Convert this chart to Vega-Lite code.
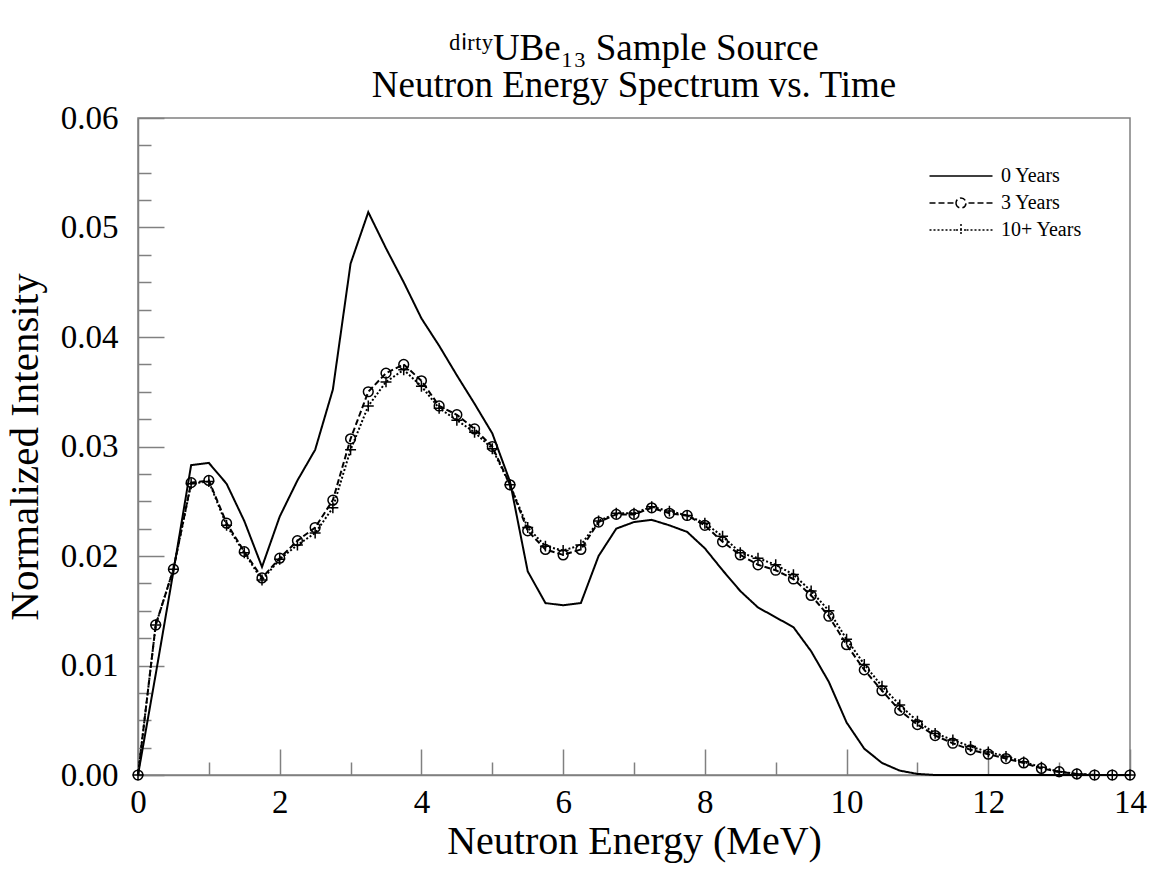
{
  "$schema": "https://vega.github.io/schema/vega-lite/v6.json",
  "autosize": "none",
  "width": 992,
  "height": 657,
  "padding": {"left": 138, "top": 118, "right": 23, "bottom": 100},
  "background": "white",
  "title": {
    "text": ["ᵈⁱʳᵗʸUBe₁₃ Sample Source", "Neutron Energy Spectrum vs. Time"],
    "font": "Liberation Serif",
    "fontSize": 37,
    "fontWeight": "normal",
    "lineHeight": 37,
    "offset": -3,
    "anchor": "middle",
    "frame": "group",
    "color": "black"
  },
  "data": {
    "values": [
      {"E": 0, "0 Years": 0, "3 Years": 0, "10+ Years": 0},
      {"E": 0.25, "0 Years": 0.0092, "3 Years": 0.0137, "10+ Years": 0.0137},
      {"E": 0.5, "0 Years": 0.0186, "3 Years": 0.0188, "10+ Years": 0.0188},
      {"E": 0.75, "0 Years": 0.0283, "3 Years": 0.0267, "10+ Years": 0.0266},
      {"E": 1.0, "0 Years": 0.0285, "3 Years": 0.0269, "10+ Years": 0.0268},
      {"E": 1.25, "0 Years": 0.0266, "3 Years": 0.0230, "10+ Years": 0.0228},
      {"E": 1.5, "0 Years": 0.0232, "3 Years": 0.0204, "10+ Years": 0.0203},
      {"E": 1.75, "0 Years": 0.0190, "3 Years": 0.0180, "10+ Years": 0.0178},
      {"E": 2.0, "0 Years": 0.0236, "3 Years": 0.0198, "10+ Years": 0.0197},
      {"E": 2.25, "0 Years": 0.0269, "3 Years": 0.0214, "10+ Years": 0.0210},
      {"E": 2.5, "0 Years": 0.0297, "3 Years": 0.0226, "10+ Years": 0.0221},
      {"E": 2.75, "0 Years": 0.0352, "3 Years": 0.0251, "10+ Years": 0.0244},
      {"E": 3.0, "0 Years": 0.0467, "3 Years": 0.0307, "10+ Years": 0.0297},
      {"E": 3.25, "0 Years": 0.0514, "3 Years": 0.0350, "10+ Years": 0.0337},
      {"E": 3.5, "0 Years": 0.0481, "3 Years": 0.0367, "10+ Years": 0.0359},
      {"E": 3.75, "0 Years": 0.0450, "3 Years": 0.0375, "10+ Years": 0.0370},
      {"E": 4.0, "0 Years": 0.0417, "3 Years": 0.0360, "10+ Years": 0.0355},
      {"E": 4.25, "0 Years": 0.0392, "3 Years": 0.0337, "10+ Years": 0.0335},
      {"E": 4.5, "0 Years": 0.0365, "3 Years": 0.0329, "10+ Years": 0.0324},
      {"E": 4.75, "0 Years": 0.0339, "3 Years": 0.0316, "10+ Years": 0.0313},
      {"E": 5.0, "0 Years": 0.0312, "3 Years": 0.0300, "10+ Years": 0.0298},
      {"E": 5.25, "0 Years": 0.0268, "3 Years": 0.0265, "10+ Years": 0.0265},
      {"E": 5.5, "0 Years": 0.0186, "3 Years": 0.0223, "10+ Years": 0.0226},
      {"E": 5.75, "0 Years": 0.0157, "3 Years": 0.0206, "10+ Years": 0.0209},
      {"E": 6.0, "0 Years": 0.0155, "3 Years": 0.0201, "10+ Years": 0.0205},
      {"E": 6.25, "0 Years": 0.0157, "3 Years": 0.0206, "10+ Years": 0.0210},
      {"E": 6.5, "0 Years": 0.0200, "3 Years": 0.0231, "10+ Years": 0.0232},
      {"E": 6.75, "0 Years": 0.0225, "3 Years": 0.0238, "10+ Years": 0.0239},
      {"E": 7.0, "0 Years": 0.0231, "3 Years": 0.0238, "10+ Years": 0.0239},
      {"E": 7.25, "0 Years": 0.0233, "3 Years": 0.0244, "10+ Years": 0.0245},
      {"E": 7.5, "0 Years": 0.0228, "3 Years": 0.0239, "10+ Years": 0.0241},
      {"E": 7.75, "0 Years": 0.0222, "3 Years": 0.0237, "10+ Years": 0.0237},
      {"E": 8.0, "0 Years": 0.0207, "3 Years": 0.0228, "10+ Years": 0.0230},
      {"E": 8.25, "0 Years": 0.0187, "3 Years": 0.0213, "10+ Years": 0.0218},
      {"E": 8.5, "0 Years": 0.0168, "3 Years": 0.0201, "10+ Years": 0.0203},
      {"E": 8.75, "0 Years": 0.0153, "3 Years": 0.0192, "10+ Years": 0.0198},
      {"E": 9.0, "0 Years": 0.0144, "3 Years": 0.0187, "10+ Years": 0.0192},
      {"E": 9.25, "0 Years": 0.0135, "3 Years": 0.0179, "10+ Years": 0.0183},
      {"E": 9.5, "0 Years": 0.0113, "3 Years": 0.0164, "10+ Years": 0.0168},
      {"E": 9.75, "0 Years": 0.0085, "3 Years": 0.0145, "10+ Years": 0.0150},
      {"E": 10.0, "0 Years": 0.0048, "3 Years": 0.0119, "10+ Years": 0.0124},
      {"E": 10.25, "0 Years": 0.0024, "3 Years": 0.0096, "10+ Years": 0.0101},
      {"E": 10.5, "0 Years": 0.0011, "3 Years": 0.0077, "10+ Years": 0.0081},
      {"E": 10.75, "0 Years": 0.0004, "3 Years": 0.0059, "10+ Years": 0.0064},
      {"E": 11.0, "0 Years": 0.0001, "3 Years": 0.0046, "10+ Years": 0.0049},
      {"E": 11.25, "0 Years": 0, "3 Years": 0.0036, "10+ Years": 0.0038},
      {"E": 11.5, "0 Years": 0, "3 Years": 0.0029, "10+ Years": 0.0032},
      {"E": 11.75, "0 Years": 0, "3 Years": 0.0023, "10+ Years": 0.0026},
      {"E": 12.0, "0 Years": 0, "3 Years": 0.0019, "10+ Years": 0.0021},
      {"E": 12.25, "0 Years": 0, "3 Years": 0.0015, "10+ Years": 0.0017},
      {"E": 12.5, "0 Years": 0, "3 Years": 0.0011, "10+ Years": 0.0012},
      {"E": 12.75, "0 Years": 0, "3 Years": 0.0006, "10+ Years": 0.0007},
      {"E": 13.0, "0 Years": 0, "3 Years": 0.0003, "10+ Years": 0.0003},
      {"E": 13.25, "0 Years": 0, "3 Years": 0.0001, "10+ Years": 0.0001},
      {"E": 13.5, "0 Years": 0, "3 Years": 0, "10+ Years": 0},
      {"E": 13.75, "0 Years": 0, "3 Years": 0, "10+ Years": 0},
      {"E": 14.0, "0 Years": 0, "3 Years": 0, "10+ Years": 0}
    ]
  },
  "transform": [
    {"fold": ["0 Years", "3 Years", "10+ Years"], "as": ["series", "value"]}
  ],
  "layer": [
    {
      "mark": {"type": "line", "color": "black", "strokeWidth": 2},
      "encoding": {
        "x": {
          "field": "E",
          "type": "quantitative",
          "scale": {"domain": [0, 14], "nice": false, "zero": false},
          "axis": {
            "orient": "bottom",
            "title": "Neutron Energy (MeV)",
            "values": [0, 2, 4, 6, 8, 10, 12, 14],
            "format": "d",
            "grid": false,
            "ticks": false,
            "domainColor": "#808080",
            "domainWidth": 1.5,
            "labelFont": "Liberation Serif",
            "labelFontSize": 33,
            "labelColor": "black",
            "labelPadding": 11,
            "labelFlush": false,
            "labelOverlap": false,
            "titleFont": "Liberation Serif",
            "titleFontSize": 40,
            "titleFontWeight": "normal",
            "titleColor": "black",
            "titlePadding": 2
          }
        },
        "y": {
          "field": "value",
          "type": "quantitative",
          "scale": {"domain": [0, 0.06], "nice": false},
          "axis": {
            "orient": "left",
            "title": "Normalized Intensity",
            "values": [0, 0.01, 0.02, 0.03, 0.04, 0.05, 0.06],
            "format": ".2f",
            "grid": false,
            "ticks": false,
            "domainColor": "#808080",
            "domainWidth": 1.5,
            "labelFont": "Liberation Serif",
            "labelFontSize": 33,
            "labelColor": "black",
            "labelPadding": 20,
            "labelFlush": false,
            "labelOverlap": false,
            "titleFont": "Liberation Serif",
            "titleFontSize": 41,
            "titleFontWeight": "normal",
            "titleColor": "black",
            "titlePadding": 14
          }
        },
        "strokeDash": {
          "field": "series",
          "type": "nominal",
          "scale": {"domain": ["0 Years", "3 Years", "10+ Years"], "range": [[1, 0], [6, 3], [2, 2]]},
          "legend": {
            "title": null,
            "orient": "top-right",
            "offset": 48,
            "symbolSize": 100,
            "symbolStrokeWidth": 1.5,
            "symbolStrokeColor": "black",
            "symbolFillColor": "transparent",
            "labelFont": "Liberation Serif",
            "labelFontSize": 20,
            "labelColor": "black",
            "labelOffset": 30,
            "rowPadding": 7,
            "encode": {
              "symbols": {
                "update": {
                  "strokeDash": {"value": []},
                  "shape": {"signal": "datum.value === '3 Years' ? 'M-6.3,0H-5.1M-4.5,0H-3.3M-2.7,0H-1.5M1.5,0H2.7M3.3,0H4.5M5.1,0H6.3M-1,0A1,1 0 1,0 1,0A1,1 0 1,0 -1,0' : datum.value === '10+ Years' ? 'M-6.3,0H-5.9M-5.5,0H-5.1M-4.7,0H-4.3M-3.9,0H-3.5M-3.1,0H-2.7M-2.3,0H-1.9M-1.5,0H-1.1M-1,0H1M1.1,0H1.5M1.9,0H2.3M2.7,0H3.1M3.5,0H3.9M4.3,0H4.7M5.1,0H5.5M5.9,0H6.3M0,-1.2V1.2' : 'M-6.3,0H6.3'"}
                }
              }
            }
          }
        }
      }
    },
    {
      "transform": [{"filter": "datum.series === '3 Years'"}],
      "mark": {"type": "point", "shape": "circle", "filled": false, "size": 95, "stroke": "black", "strokeWidth": 1.5, "opacity": 1},
      "encoding": {
        "x": {
          "field": "E",
          "type": "quantitative",
          "scale": {"domain": [0, 14], "nice": false, "zero": false},
          "axis": {
            "orient": "bottom",
            "title": null,
            "values": [0, 2, 4, 6, 8, 10, 12, 14],
            "labels": false,
            "domain": false,
            "grid": false,
            "ticks": true,
            "tickSize": 26,
            "offset": -26,
            "tickColor": "#808080",
            "tickWidth": 1.5
          }
        },
        "y": {
          "field": "value",
          "type": "quantitative",
          "scale": {"domain": [0, 0.06], "nice": false},
          "axis": {
            "orient": "left",
            "title": null,
            "values": [0, 0.01, 0.02, 0.03, 0.04, 0.05, 0.06],
            "labels": false,
            "domain": false,
            "grid": false,
            "ticks": true,
            "tickSize": 26,
            "offset": -26,
            "tickColor": "#808080",
            "tickWidth": 1.5
          }
        }
      }
    },
    {
      "transform": [{"filter": "datum.series === '10+ Years'"}],
      "mark": {"type": "point", "shape": "M-1,0H1M0,-1V1", "filled": false, "size": 120, "stroke": "black", "strokeWidth": 1.5, "opacity": 1},
      "encoding": {
        "x": {
          "field": "E",
          "type": "quantitative",
          "scale": {"domain": [0, 14], "nice": false, "zero": false},
          "axis": {
            "orient": "bottom",
            "title": null,
            "values": [1, 3, 5, 7, 9, 11, 13],
            "labels": false,
            "domain": false,
            "grid": false,
            "ticks": true,
            "tickSize": 13,
            "offset": -13,
            "tickColor": "#808080",
            "tickWidth": 1.5
          }
        },
        "y": {
          "field": "value",
          "type": "quantitative",
          "scale": {"domain": [0, 0.06], "nice": false},
          "axis": {
            "orient": "left",
            "title": null,
            "values": [0.0025, 0.005, 0.0075, 0.0125, 0.015, 0.0175, 0.0225, 0.025, 0.0275, 0.0325, 0.035, 0.0375, 0.0425, 0.045, 0.0475, 0.0525, 0.055, 0.0575],
            "labels": false,
            "domain": false,
            "grid": false,
            "ticks": true,
            "tickSize": 13,
            "offset": -13,
            "tickColor": "#808080",
            "tickWidth": 1.5
          }
        }
      }
    }
  ],
  "resolve": {"axis": {"x": "independent", "y": "independent"}},
  "config": {
    "font": "Liberation Serif",
    "view": {"stroke": "#808080", "strokeWidth": 1.5}
  }
}
